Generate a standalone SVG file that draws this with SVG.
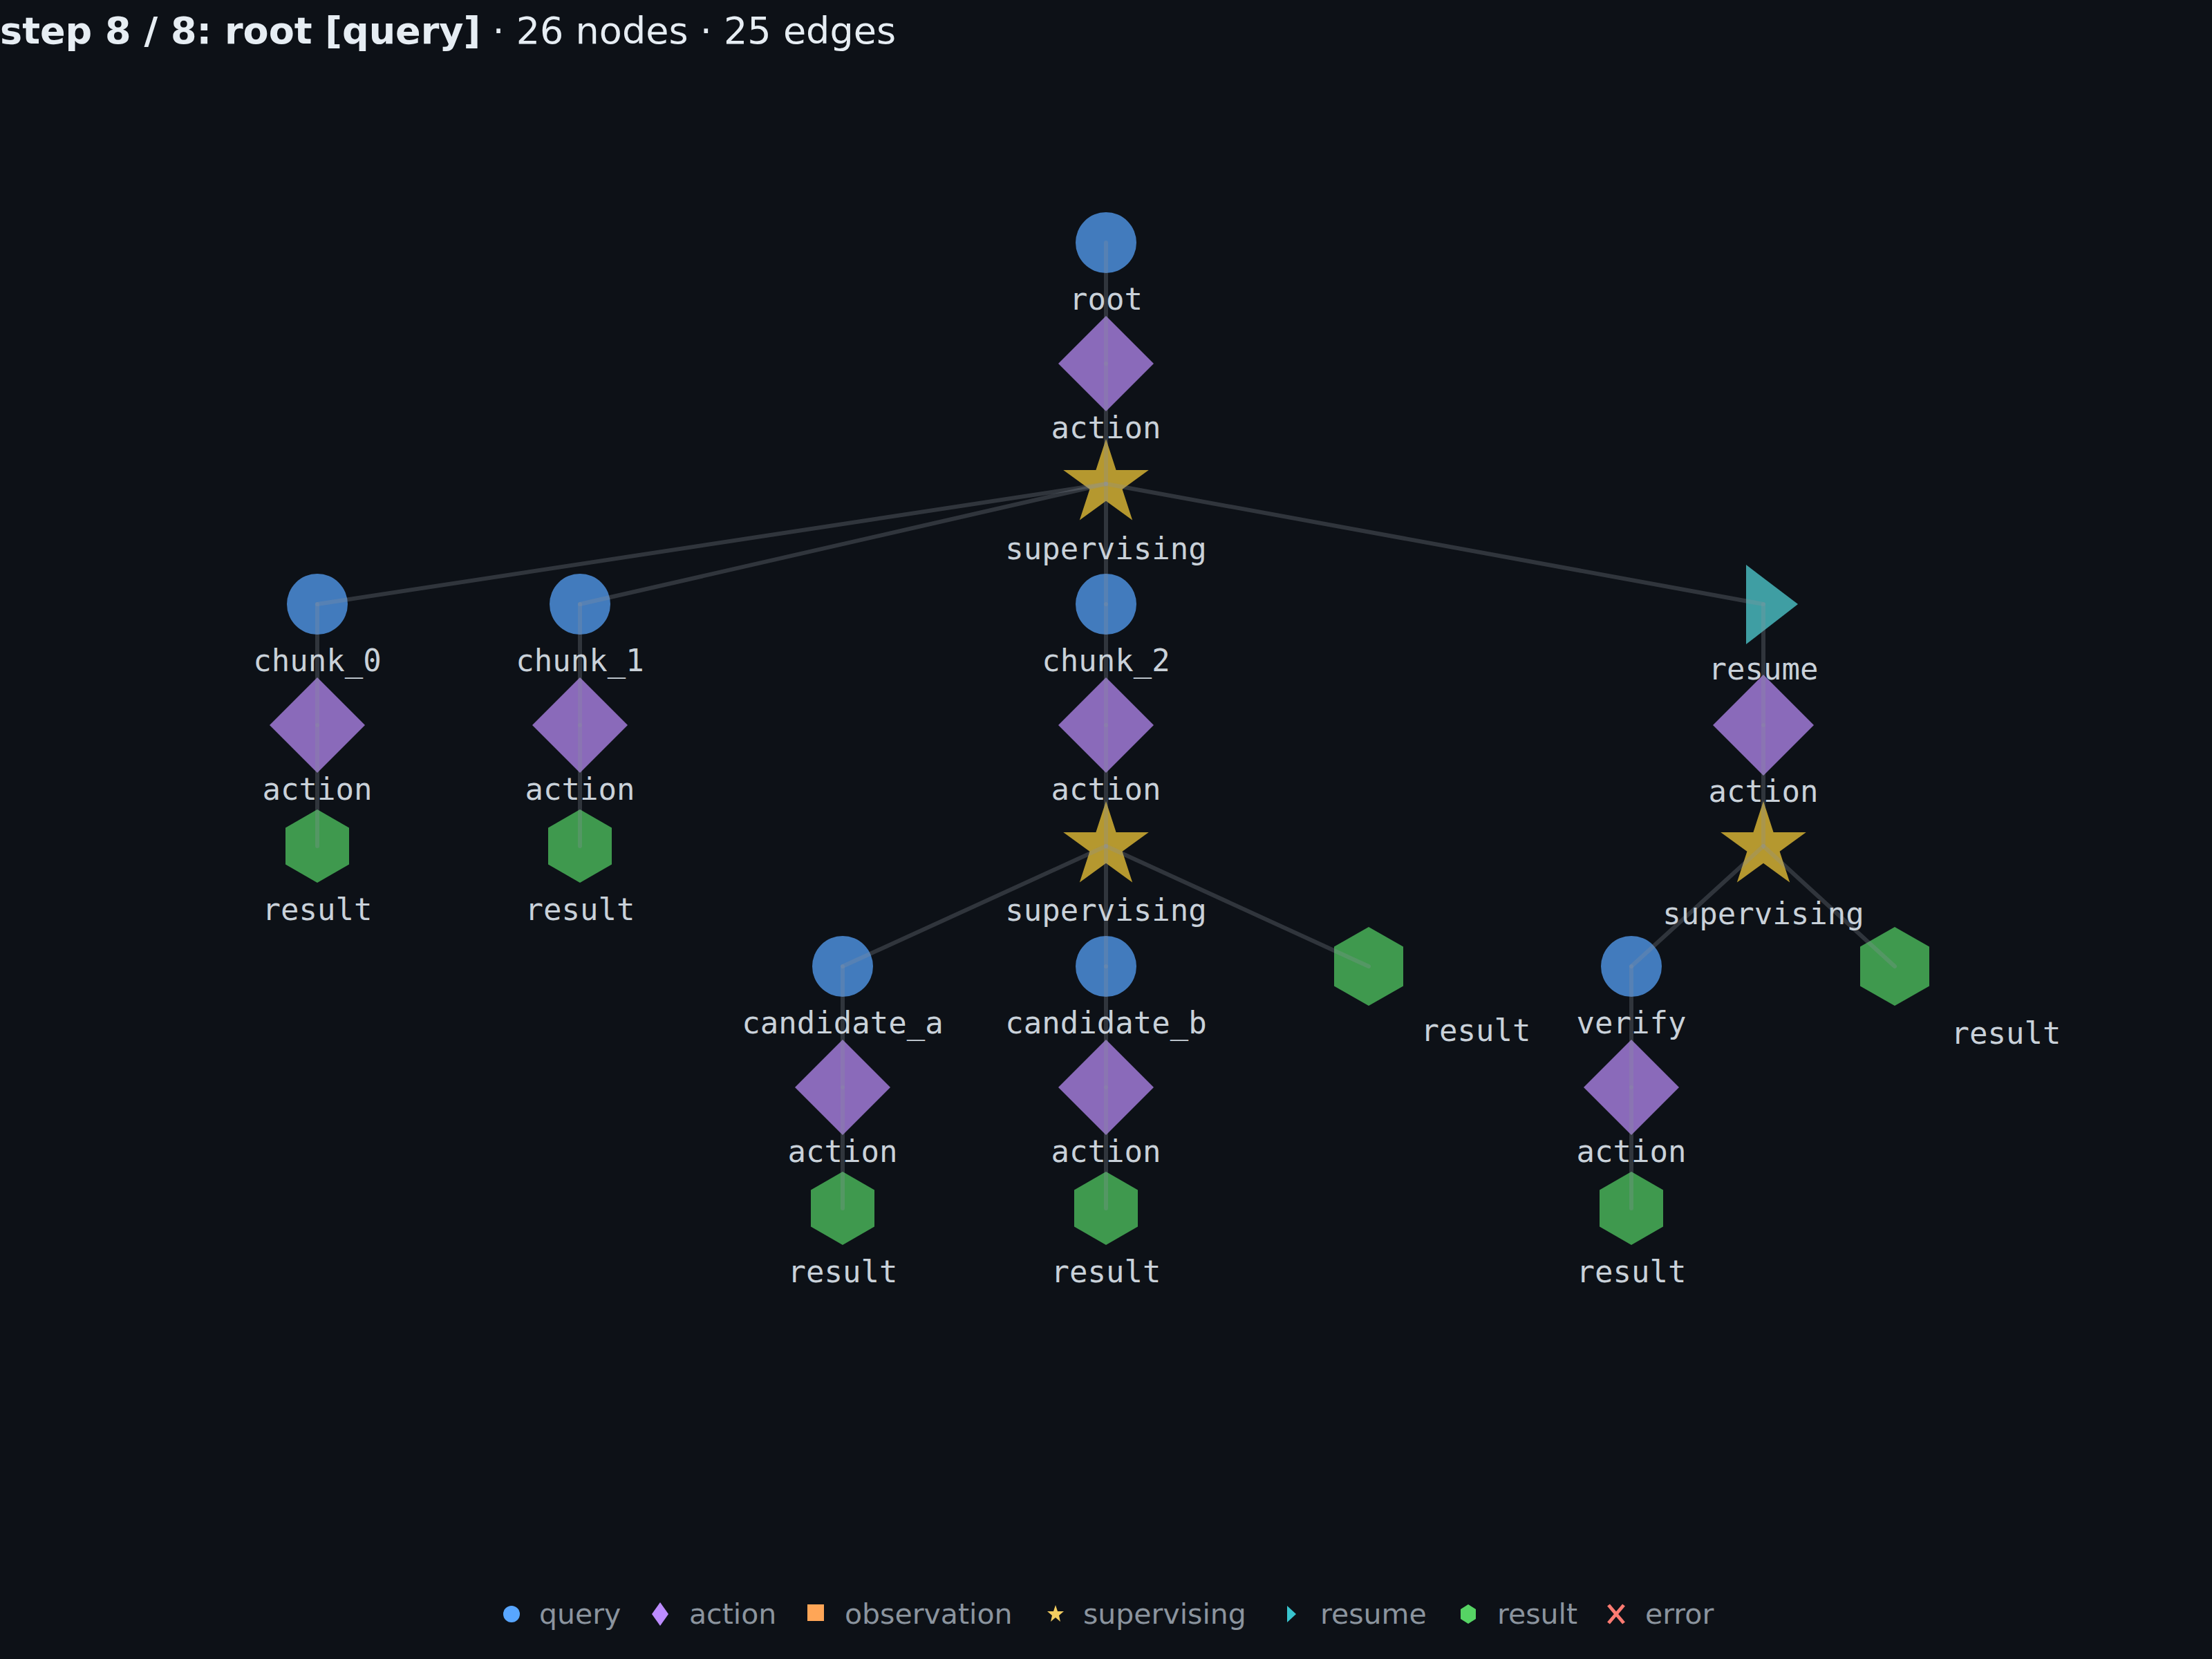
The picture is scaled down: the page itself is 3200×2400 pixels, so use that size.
<svg xmlns="http://www.w3.org/2000/svg" width="3200" height="2400" viewBox="0 0 3200 2400">
<defs>
<style>
.q{fill:#427bbd}.a{fill:#8a6aba}.s{fill:#b5982f}.r{fill:#3f9ea3}.h{fill:#3f994e}
.e line{stroke:#8b949e;stroke-opacity:0.28;stroke-width:6;stroke-linecap:round}
.lb{font-family:"DejaVu Sans Mono",monospace;font-size:44px;fill:#c9d1d9;text-anchor:middle}
.lg{font-family:"DejaVu Sans",sans-serif;font-size:41px;fill:#8b949e}
</style>
<circle id="cq" r="44"/>
<polygon id="da" points="0,-69 69,0 0,69 -69,0"/>
<polygon id="dal" points="0,-73 73,0 0,73 -73,0"/>
<polygon id="st" points="0,-65 14.6,-20.1 61.8,-20.1 23.6,7.7 38.2,52.6 0,24.8 -38.2,52.6 -23.6,7.7 -61.8,-20.1 -14.6,-20.1"/>
<polygon id="hx" points="0,-53 46,-26.5 46,26.5 0,53 -46,26.5 -46,-26.5"/>
<polygon id="hxl" points="0,-57 50,-28.5 50,28.5 0,57 -50,28.5 -50,-28.5"/>
</defs>
<rect width="3200" height="2400" fill="#0d1117"/>
<text x="0" y="63" font-family="DejaVu Sans,sans-serif" font-size="54" fill="#e6edf3"><tspan font-weight="bold">step 8 / 8: root [query]</tspan> · 26 nodes · 25 edges</text>

<g id="n-root"><use href="#cq" class="q" x="1600" y="351"/></g>
<g id="n-a0"><use href="#da" class="a" x="1600" y="526"/></g>
<g id="n-s0"><use href="#st" class="s" x="1600" y="700"/></g>
<g id="n-c0"><use href="#cq" class="q" x="459" y="874"/></g>
<g id="n-c0a"><use href="#da" class="a" x="459" y="1049"/></g>
<g id="n-c0r"><use href="#hx" class="h" x="459" y="1224"/></g>
<g id="n-c1"><use href="#cq" class="q" x="839" y="874"/></g>
<g id="n-c1a"><use href="#da" class="a" x="839" y="1049"/></g>
<g id="n-c1r"><use href="#hx" class="h" x="839" y="1224"/></g>
<g id="n-c2"><use href="#cq" class="q" x="1600" y="874"/></g>
<g id="n-c2a"><use href="#da" class="a" x="1600" y="1049"/></g>
<g id="n-c2s"><use href="#st" class="s" x="1600" y="1224"/></g>
<g id="n-ca"><use href="#cq" class="q" x="1219" y="1398"/></g>
<g id="n-caa"><use href="#da" class="a" x="1219" y="1573"/></g>
<g id="n-car"><use href="#hx" class="h" x="1219" y="1748"/></g>
<g id="n-cb"><use href="#cq" class="q" x="1600" y="1398"/></g>
<g id="n-cba"><use href="#da" class="a" x="1600" y="1573"/></g>
<g id="n-cbr"><use href="#hx" class="h" x="1600" y="1748"/></g>
<g id="n-c2r"><use href="#hxl" class="h" x="1980" y="1398"/></g>
<g id="n-res"><polygon class="r" points="2526,817 2601,874 2526,932"/></g>
<g id="n-resa"><use href="#dal" class="a" x="2551" y="1049"/></g>
<g id="n-ress"><use href="#st" class="s" x="2551" y="1224"/></g>
<g id="n-v"><use href="#cq" class="q" x="2360" y="1398"/></g>
<g id="n-va"><use href="#da" class="a" x="2360" y="1573"/></g>
<g id="n-vr"><use href="#hx" class="h" x="2360" y="1748"/></g>
<g id="n-resr"><use href="#hxl" class="h" x="2741" y="1398"/></g>

<g id="edges" class="e">
<line x1="1600" y1="351" x2="1600" y2="526"/>
<line x1="1600" y1="526" x2="1600" y2="700"/>
<line x1="1600" y1="700" x2="459" y2="874"/>
<line x1="1600" y1="700" x2="839" y2="874"/>
<line x1="1600" y1="700" x2="1600" y2="874"/>
<line x1="1600" y1="700" x2="2551" y2="874"/>
<line x1="459" y1="874" x2="459" y2="1049"/>
<line x1="459" y1="1049" x2="459" y2="1224"/>
<line x1="839" y1="874" x2="839" y2="1049"/>
<line x1="839" y1="1049" x2="839" y2="1224"/>
<line x1="1600" y1="874" x2="1600" y2="1049"/>
<line x1="1600" y1="1049" x2="1600" y2="1224"/>
<line x1="1600" y1="1224" x2="1219" y2="1398"/>
<line x1="1600" y1="1224" x2="1600" y2="1398"/>
<line x1="1600" y1="1224" x2="1980" y2="1398"/>
<line x1="1219" y1="1398" x2="1219" y2="1573"/>
<line x1="1219" y1="1573" x2="1219" y2="1748"/>
<line x1="1600" y1="1398" x2="1600" y2="1573"/>
<line x1="1600" y1="1573" x2="1600" y2="1748"/>
<line x1="2551" y1="874" x2="2551" y2="1049"/>
<line x1="2551" y1="1049" x2="2551" y2="1224"/>
<line x1="2551" y1="1224" x2="2360" y2="1398"/>
<line x1="2551" y1="1224" x2="2741" y2="1398"/>
<line x1="2360" y1="1398" x2="2360" y2="1573"/>
<line x1="2360" y1="1573" x2="2360" y2="1748"/>
</g>

<g id="labels" class="lb">
<text x="1600" y="448">root</text>
<text x="1600" y="634">action</text>
<text x="1600" y="809">supervising</text>
<text x="459" y="971">chunk_0</text>
<text x="459" y="1157">action</text>
<text x="459" y="1331">result</text>
<text x="839" y="971">chunk_1</text>
<text x="839" y="1157">action</text>
<text x="839" y="1331">result</text>
<text x="1600" y="971">chunk_2</text>
<text x="1600" y="1157">action</text>
<text x="1600" y="1332">supervising</text>
<text x="1219" y="1495">candidate_a</text>
<text x="1219" y="1681">action</text>
<text x="1219" y="1855">result</text>
<text x="1600" y="1495">candidate_b</text>
<text x="1600" y="1681">action</text>
<text x="1600" y="1855">result</text>
<text x="2135" y="1506">result</text>
<text x="2551" y="983">resume</text>
<text x="2551" y="1160">action</text>
<text x="2551" y="1337">supervising</text>
<text x="2360" y="1495">verify</text>
<text x="2360" y="1681">action</text>
<text x="2360" y="1855">result</text>
<text x="2902" y="1510">result</text>
</g>

<g id="legend">
<circle cx="740" cy="2335" r="12" fill="#58a6ff"/>
<text class="lg" x="780" y="2349">query</text>
<polygon points="955,2318 967,2335 955,2352 943,2335" fill="#bc8cff"/>
<text class="lg" x="997" y="2349">action</text>
<rect x="1168" y="2321" width="24" height="24" fill="#ffa657"/>
<text class="lg" x="1222" y="2349">observation</text>
<polygon points="1527,2322 1530,2331 1539,2331 1532,2337 1534,2346 1527,2340 1520,2346 1522,2337 1515,2331 1524,2331" fill="#f2cc60"/>
<text class="lg" x="1567" y="2349">supervising</text>
<polygon points="1862,2323 1875,2335 1862,2347" fill="#39c5cf"/>
<text class="lg" x="1910" y="2349">resume</text>
<polygon points="2124,2321 2135,2328 2135,2342 2124,2349 2113,2342 2113,2328" fill="#56d364"/>
<text class="lg" x="2166" y="2349">result</text>
<path d="M2327,2322 L2349,2348 M2349,2322 L2327,2348" stroke="#ff7b72" stroke-width="5"/>
<text class="lg" x="2380" y="2349">error</text>
</g>
</svg>
